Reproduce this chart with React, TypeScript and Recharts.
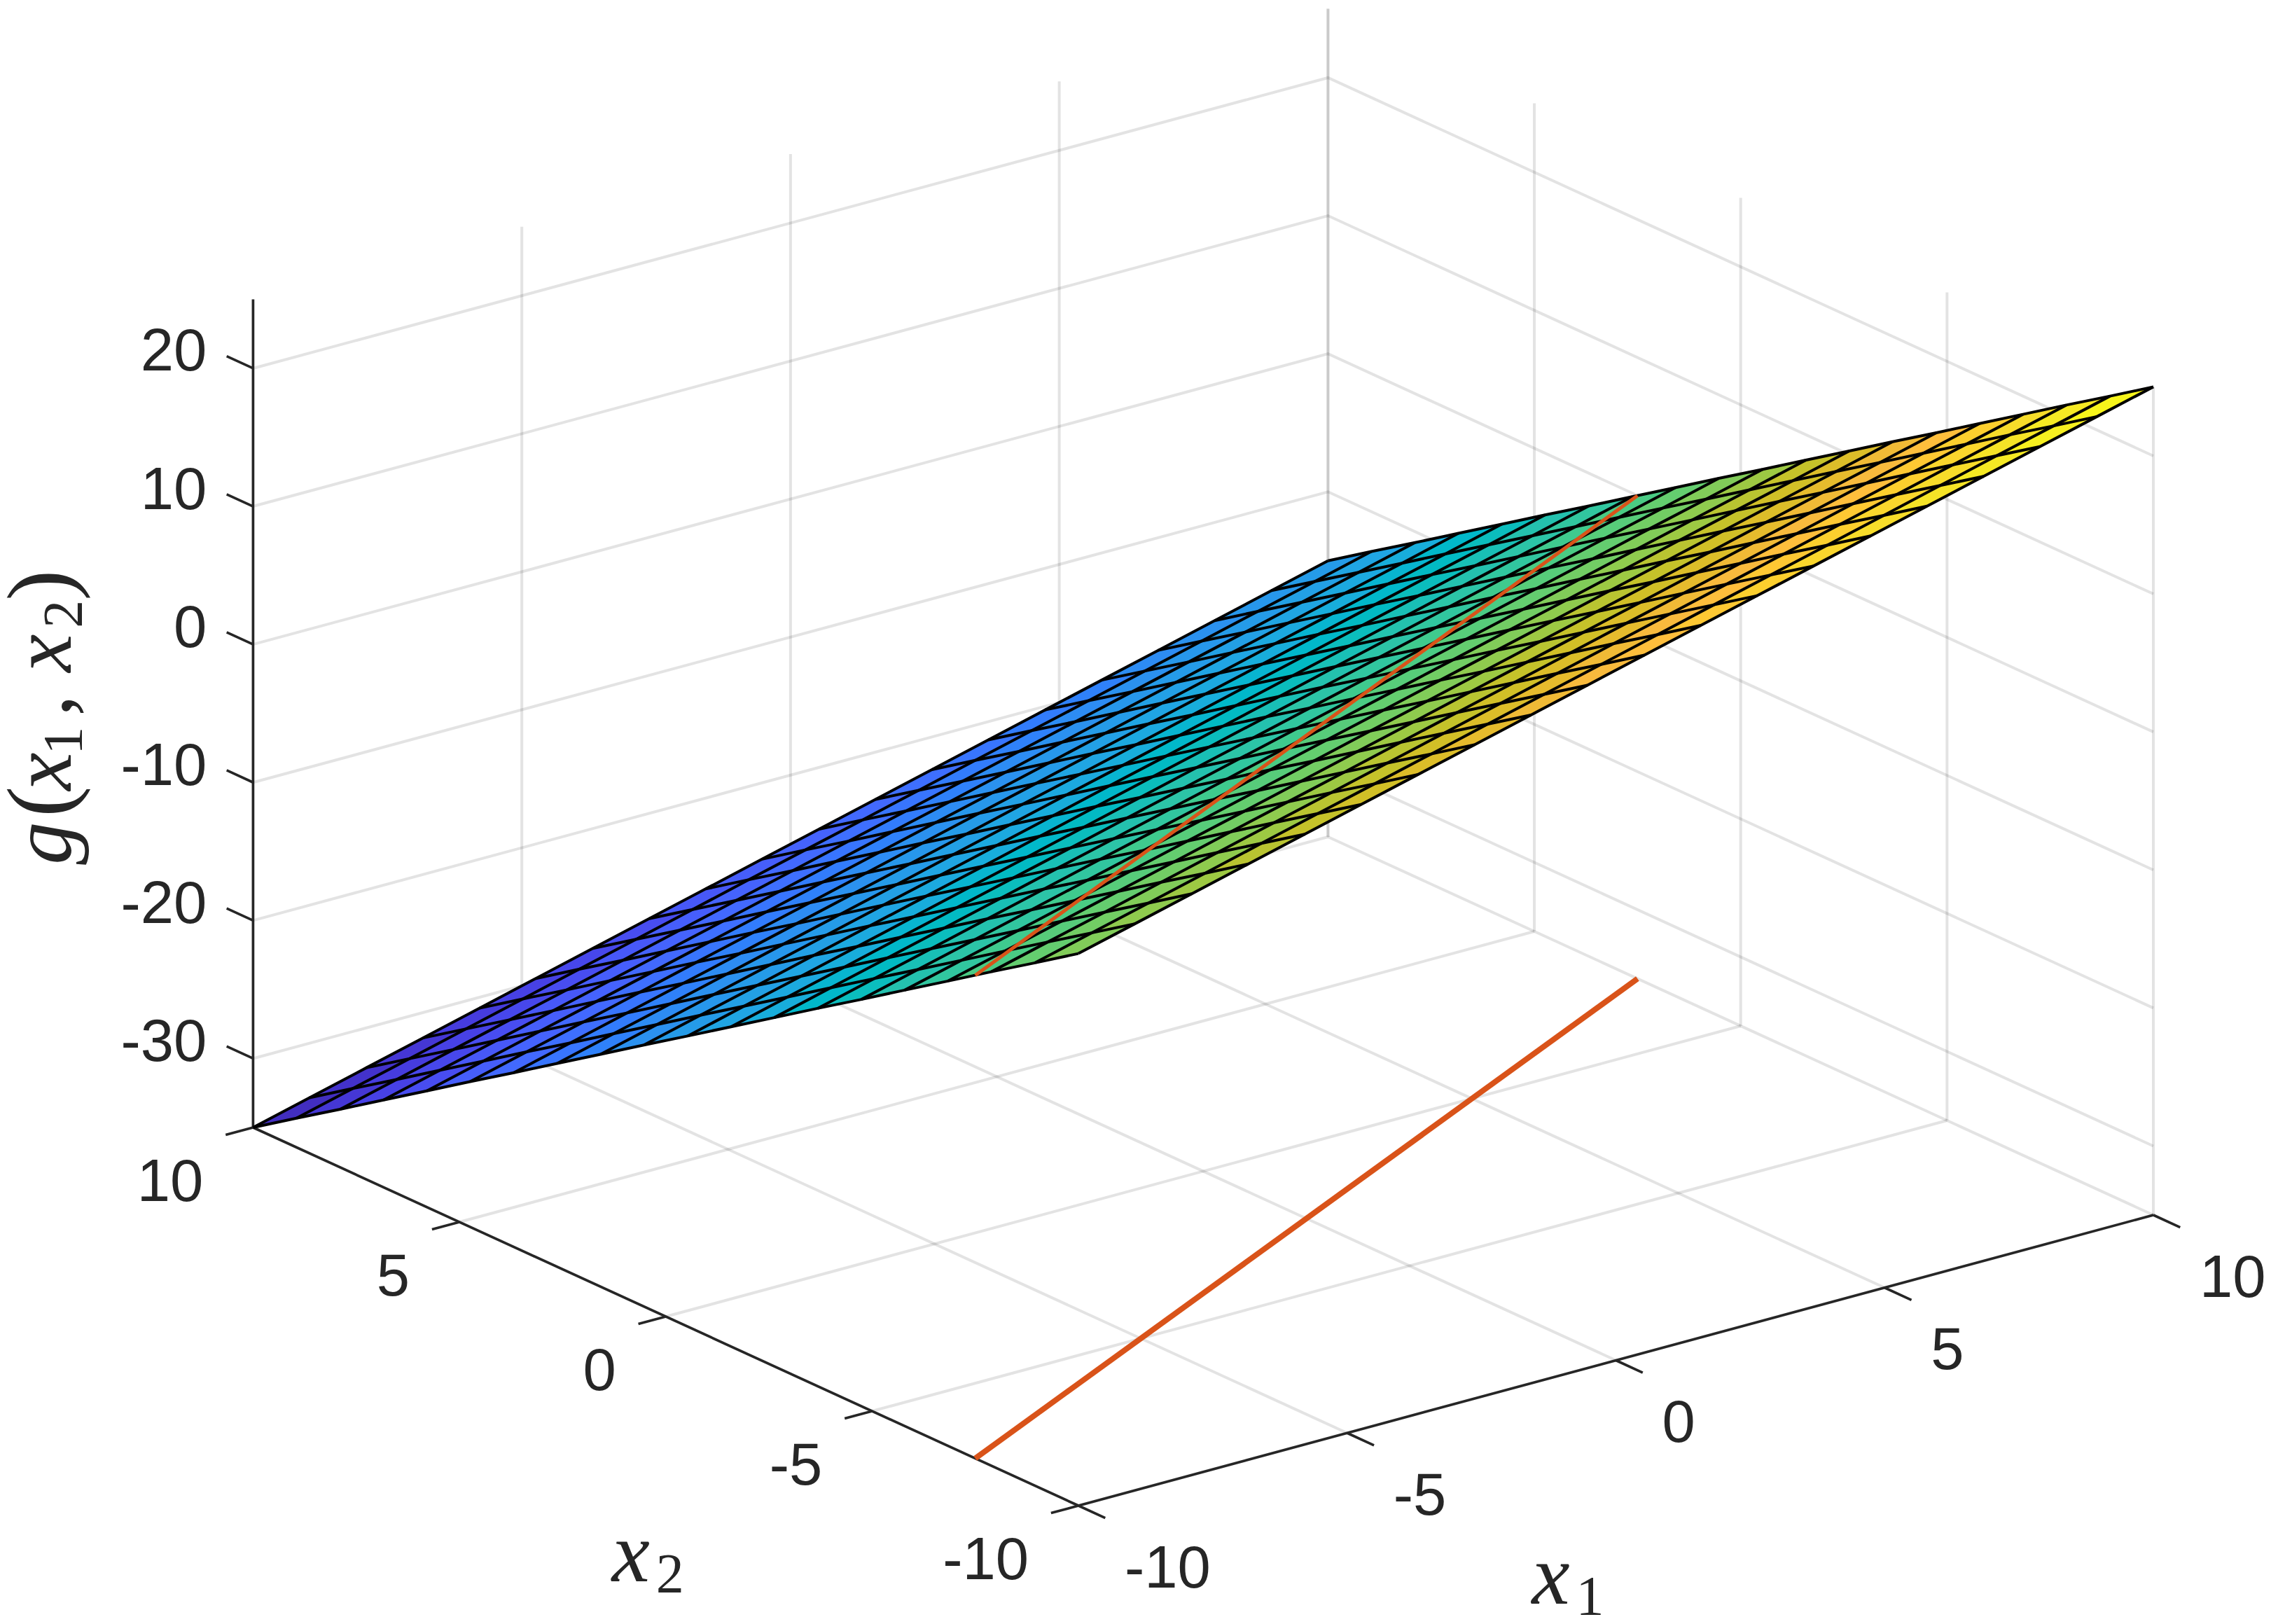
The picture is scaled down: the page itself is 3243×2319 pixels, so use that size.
import React from 'react';
import { ScatterChart, Scatter, XAxis, YAxis } from 'recharts';

const WIDTH = 3243;
const HEIGHT = 2319;

const X1_GRID = [-10, -8.95, -7.89, -6.84, -5.79, -4.74, -3.68, -2.63, -1.58, -0.53, 0.53, 1.58, 2.63, 3.68, 4.74, 5.79, 6.84, 7.89, 8.95, 10];
const X2_GRID = [-10, -8.95, -7.89, -6.84, -5.79, -4.74, -3.68, -2.63, -1.58, -0.53, 0.53, 1.58, 2.63, 3.68, 4.74, 5.79, 6.84, 7.89, 8.95, 10];

// g(x1, x2): one row per x2 value, one column per x1 value
const G_VALUES = [
  [5.00, 6.05, 7.11, 8.16, 9.21, 10.26, 11.32, 12.37, 13.42, 14.47, 15.53, 16.58, 17.63, 18.68, 19.74, 20.79, 21.84, 22.89, 23.95, 25.00],
  [2.89, 3.95, 5.00, 6.05, 7.11, 8.16, 9.21, 10.26, 11.32, 12.37, 13.42, 14.47, 15.53, 16.58, 17.63, 18.68, 19.74, 20.79, 21.84, 22.89],
  [0.79, 1.84, 2.89, 3.95, 5.00, 6.05, 7.11, 8.16, 9.21, 10.26, 11.32, 12.37, 13.42, 14.47, 15.53, 16.58, 17.63, 18.68, 19.74, 20.79],
  [-1.32, -0.26, 0.79, 1.84, 2.89, 3.95, 5.00, 6.05, 7.11, 8.16, 9.21, 10.26, 11.32, 12.37, 13.42, 14.47, 15.53, 16.58, 17.63, 18.68],
  [-3.42, -2.37, -1.32, -0.26, 0.79, 1.84, 2.89, 3.95, 5.00, 6.05, 7.11, 8.16, 9.21, 10.26, 11.32, 12.37, 13.42, 14.47, 15.53, 16.58],
  [-5.53, -4.47, -3.42, -2.37, -1.32, -0.26, 0.79, 1.84, 2.89, 3.95, 5.00, 6.05, 7.11, 8.16, 9.21, 10.26, 11.32, 12.37, 13.42, 14.47],
  [-7.63, -6.58, -5.53, -4.47, -3.42, -2.37, -1.32, -0.26, 0.79, 1.84, 2.89, 3.95, 5.00, 6.05, 7.11, 8.16, 9.21, 10.26, 11.32, 12.37],
  [-9.74, -8.68, -7.63, -6.58, -5.53, -4.47, -3.42, -2.37, -1.32, -0.26, 0.79, 1.84, 2.89, 3.95, 5.00, 6.05, 7.11, 8.16, 9.21, 10.26],
  [-11.84, -10.79, -9.74, -8.68, -7.63, -6.58, -5.53, -4.47, -3.42, -2.37, -1.32, -0.26, 0.79, 1.84, 2.89, 3.95, 5.00, 6.05, 7.11, 8.16],
  [-13.95, -12.89, -11.84, -10.79, -9.74, -8.68, -7.63, -6.58, -5.53, -4.47, -3.42, -2.37, -1.32, -0.26, 0.79, 1.84, 2.89, 3.95, 5.00, 6.05],
  [-16.05, -15.00, -13.95, -12.89, -11.84, -10.79, -9.74, -8.68, -7.63, -6.58, -5.53, -4.47, -3.42, -2.37, -1.32, -0.26, 0.79, 1.84, 2.89, 3.95],
  [-18.16, -17.11, -16.05, -15.00, -13.95, -12.89, -11.84, -10.79, -9.74, -8.68, -7.63, -6.58, -5.53, -4.47, -3.42, -2.37, -1.32, -0.26, 0.79, 1.84],
  [-20.26, -19.21, -18.16, -17.11, -16.05, -15.00, -13.95, -12.89, -11.84, -10.79, -9.74, -8.68, -7.63, -6.58, -5.53, -4.47, -3.42, -2.37, -1.32, -0.26],
  [-22.37, -21.32, -20.26, -19.21, -18.16, -17.11, -16.05, -15.00, -13.95, -12.89, -11.84, -10.79, -9.74, -8.68, -7.63, -6.58, -5.53, -4.47, -3.42, -2.37],
  [-24.47, -23.42, -22.37, -21.32, -20.26, -19.21, -18.16, -17.11, -16.05, -15.00, -13.95, -12.89, -11.84, -10.79, -9.74, -8.68, -7.63, -6.58, -5.53, -4.47],
  [-26.58, -25.53, -24.47, -23.42, -22.37, -21.32, -20.26, -19.21, -18.16, -17.11, -16.05, -15.00, -13.95, -12.89, -11.84, -10.79, -9.74, -8.68, -7.63, -6.58],
  [-28.68, -27.63, -26.58, -25.53, -24.47, -23.42, -22.37, -21.32, -20.26, -19.21, -18.16, -17.11, -16.05, -15.00, -13.95, -12.89, -11.84, -10.79, -9.74, -8.68],
  [-30.79, -29.74, -28.68, -27.63, -26.58, -25.53, -24.47, -23.42, -22.37, -21.32, -20.26, -19.21, -18.16, -17.11, -16.05, -15.00, -13.95, -12.89, -11.84, -10.79],
  [-32.89, -31.84, -30.79, -29.74, -28.68, -27.63, -26.58, -25.53, -24.47, -23.42, -22.37, -21.32, -20.26, -19.21, -18.16, -17.11, -16.05, -15.00, -13.95, -12.89],
  [-35.00, -33.95, -32.89, -31.84, -30.79, -29.74, -28.68, -27.63, -26.58, -25.53, -24.47, -23.42, -22.37, -21.32, -20.26, -19.21, -18.16, -17.11, -16.05, -15.00],
];

const RED_X1 = [-10, 10];
const RED_X2 = [-7.5, 2.5];
const RED_SURFACE_Z = [0, 0];

const X_TICKS = [-10, -5, 0, 5, 10];
const Z_TICKS = [-30, -20, -10, 0, 10, 20];
const X_MIN = -10;
const X_MAX = 10;
const Z_MIN = -35;
const Z_MAX = 25;

const PARULA = [
  [0.2422, 0.1504, 0.6603], [0.2504, 0.165, 0.7076], [0.2578, 0.1818, 0.7511], [0.2647, 0.1978, 0.7952],
  [0.2706, 0.2147, 0.8364], [0.2751, 0.2342, 0.871], [0.2783, 0.2559, 0.8991], [0.2803, 0.2782, 0.9221],
  [0.2813, 0.3006, 0.9414], [0.281, 0.3228, 0.9579], [0.2795, 0.3447, 0.9717], [0.276, 0.3667, 0.9829],
  [0.2699, 0.3892, 0.9906], [0.2602, 0.4123, 0.9952], [0.244, 0.4358, 0.9988], [0.2206, 0.4603, 0.9973],
  [0.1963, 0.4847, 0.9892], [0.1834, 0.5074, 0.9798], [0.1786, 0.5289, 0.9682], [0.1764, 0.5499, 0.952],
  [0.1687, 0.5703, 0.9359], [0.154, 0.5902, 0.9218], [0.146, 0.6091, 0.9079], [0.138, 0.6276, 0.8973],
  [0.1248, 0.6459, 0.8883], [0.1113, 0.6635, 0.8763], [0.0952, 0.6798, 0.8598], [0.0689, 0.6948, 0.8394],
  [0.0297, 0.7082, 0.8163], [0.0036, 0.7203, 0.7917], [0.0067, 0.7312, 0.766], [0.0433, 0.7411, 0.7394],
  [0.0964, 0.75, 0.712], [0.1408, 0.7584, 0.6842], [0.1717, 0.767, 0.6554], [0.1938, 0.7758, 0.6251],
  [0.2161, 0.7843, 0.5923], [0.247, 0.7918, 0.5567], [0.2906, 0.7973, 0.5188], [0.3406, 0.8008, 0.4789],
  [0.3909, 0.8029, 0.4354], [0.4456, 0.8024, 0.3909], [0.5044, 0.7993, 0.348], [0.5616, 0.7942, 0.3045],
  [0.6174, 0.7876, 0.2612], [0.672, 0.7793, 0.2227], [0.7242, 0.7698, 0.191], [0.7738, 0.7598, 0.1646],
  [0.8203, 0.7498, 0.1535], [0.8634, 0.7406, 0.1596], [0.9035, 0.733, 0.1774], [0.9393, 0.7288, 0.21],
  [0.9728, 0.7298, 0.2394], [0.9956, 0.7434, 0.2371], [0.997, 0.7659, 0.2199], [0.9952, 0.7861, 0.1991],
  [0.9892, 0.8135, 0.1798], [0.9786, 0.8386, 0.1766], [0.9676, 0.8639, 0.1643], [0.961, 0.889, 0.1537],
  [0.9597, 0.9135, 0.1423], [0.9628, 0.9373, 0.1265], [0.9691, 0.9606, 0.1064], [0.9769, 0.9839, 0.0805],
];

const TEXT_COLOR = '#262626';
const AXIS_COLOR = '#262626';
const RED = '#D95319';
const SANS = '"Liberation Sans", Arial, sans-serif';
const SERIF = '"Liberation Serif", "Times New Roman", serif';
const GRID_W = 4;
const GRID_OP = 0.13;
const AXIS_W = 3.6;
const MESH_W = 4;

// Orthographic view of the 3D box, expressed on the chart's x/y axes.
const project = (x1: number, x2: number, z: number) => ({
  px: 1540 + (x1 + 10) * 76.75 - (x2 + 10) * 58.93,
  py: 2150 - (x1 + 10) * 20.75 - (x2 + 10) * 27 - (z + 35) * 19.71,
});

const parulaColor = (z: number) => {
  const idx = Math.min(PARULA.length - 1, Math.floor(((z - Z_MIN) / (Z_MAX - Z_MIN)) * PARULA.length));
  const [r, g, b] = PARULA[idx];
  return `rgb(${Math.round(r * 255)},${Math.round(g * 255)},${Math.round(b * 255)})`;
};

const NoMark = () => <g />;

type Pt = { px: number; py: number };

const segment = (key: string, pts: Pt[], stroke: string, strokeWidth: number, strokeOpacity = 1) => (
  <Scatter
    key={key}
    data={pts}
    isAnimationActive={false}
    shape={NoMark}
    lineJointType="linear"
    line={{ stroke, strokeWidth, strokeOpacity, fill: 'none', strokeLinecap: 'butt', strokeLinejoin: 'miter' }}
  />
);

const gridSeries: React.ReactNode[] = [];
X_TICKS.forEach((t) => {
  gridSeries.push(segment(`fx1${t}`, [project(t, X_MIN, Z_MIN), project(t, X_MAX, Z_MIN)], AXIS_COLOR, GRID_W, GRID_OP));
  gridSeries.push(segment(`fx2${t}`, [project(X_MIN, t, Z_MIN), project(X_MAX, t, Z_MIN)], AXIS_COLOR, GRID_W, GRID_OP));
  gridSeries.push(segment(`wx1${t}`, [project(t, X_MAX, Z_MIN), project(t, X_MAX, Z_MAX)], AXIS_COLOR, GRID_W, GRID_OP));
  gridSeries.push(segment(`wx2${t}`, [project(X_MAX, t, Z_MIN), project(X_MAX, t, Z_MAX)], AXIS_COLOR, GRID_W, GRID_OP));
});
Z_TICKS.forEach((t) => {
  gridSeries.push(
    segment(`wz${t}`, [project(X_MIN, X_MAX, t), project(X_MAX, X_MAX, t), project(X_MAX, X_MIN, t)], AXIS_COLOR, GRID_W, GRID_OP),
  );
});

const axisSeries: React.ReactNode[] = [
  segment('ax1', [project(X_MIN, X_MIN, Z_MIN), project(X_MAX, X_MIN, Z_MIN)], AXIS_COLOR, AXIS_W),
  segment('ax2', [project(X_MIN, X_MIN, Z_MIN), project(X_MIN, X_MAX, Z_MIN)], AXIS_COLOR, AXIS_W),
  segment('az', [project(X_MIN, X_MAX, Z_MIN), project(X_MIN, X_MAX, Z_MAX)], AXIS_COLOR, AXIS_W),
];
X_TICKS.forEach((t) => {
  axisSeries.push(segment(`t1${t}`, [project(t, X_MIN, Z_MIN), project(t, X_MIN - 0.65, Z_MIN)], AXIS_COLOR, AXIS_W));
  axisSeries.push(segment(`t2${t}`, [project(X_MIN, t, Z_MIN), project(X_MIN - 0.51, t, Z_MIN)], AXIS_COLOR, AXIS_W));
});
Z_TICKS.forEach((t) => {
  axisSeries.push(segment(`tz${t}`, [project(X_MIN, X_MAX, t), project(X_MIN, X_MAX + 0.64, t)], AXIS_COLOR, AXIS_W));
});

const faceSeries: React.ReactNode[] = [];
for (let j = 0; j < X2_GRID.length - 1; j++) {
  for (let i = 0; i < X1_GRID.length - 1; i++) {
    const pts = [
      project(X1_GRID[i], X2_GRID[j], G_VALUES[j][i]),
      project(X1_GRID[i + 1], X2_GRID[j], G_VALUES[j][i + 1]),
      project(X1_GRID[i + 1], X2_GRID[j + 1], G_VALUES[j + 1][i + 1]),
      project(X1_GRID[i], X2_GRID[j + 1], G_VALUES[j + 1][i]),
      project(X1_GRID[i], X2_GRID[j], G_VALUES[j][i]),
    ];
    const color = parulaColor(G_VALUES[j][i]);
    faceSeries.push(
      <Scatter
        key={`f${i}-${j}`}
        data={pts}
        isAnimationActive={false}
        shape={NoMark}
        lineJointType="linear"
        line={{ fill: color, stroke: color, strokeWidth: 0.5 }}
      />,
    );
  }
}

const meshSeries: React.ReactNode[] = [];
X2_GRID.forEach((x2, j) => {
  meshSeries.push(segment(`mr${j}`, X1_GRID.map((x1, i) => project(x1, x2, G_VALUES[j][i])), '#000', MESH_W));
});
X1_GRID.forEach((x1, i) => {
  meshSeries.push(segment(`mc${i}`, X2_GRID.map((x2, j) => project(x1, x2, G_VALUES[j][i])), '#000', MESH_W));
});

const tickLabel = (anchor: string, dx: number, dy: number) => (p: any) => (
  <text
    x={p.cx + dx}
    y={p.cy + dy}
    textAnchor={anchor}
    dominantBaseline="central"
    fontFamily={SANS}
    fontSize={85}
    fill={TEXT_COLOR}
  >
    {p.payload.label}
  </text>
);

const titleX = (sub: string) => (p: any) => (
  <g>
    <text x={p.cx} y={p.cy} fontFamily={SERIF} fontStyle="italic" fontSize={122} fill={TEXT_COLOR}>
      x
    </text>
    <text x={p.cx + 63} y={p.cy + 16} fontFamily={SERIF} fontSize={80} fill={TEXT_COLOR}>
      {sub}
    </text>
  </g>
);

const ZPart = ({ at, up = 0, size = 122, italic = false, children }: any) => (
  <text
    x={at}
    y={up}
    fontFamily={SERIF}
    fontStyle={italic ? 'italic' : 'normal'}
    fontSize={size}
    fill={TEXT_COLOR}
  >
    {children}
  </text>
);

const titleZ = (p: any) => (
  <g transform={`translate(${p.cx} ${p.cy}) rotate(-90)`}>
    <ZPart at={0} italic>g</ZPart>
    <ZPart at={68} size={132}>(</ZPart>
    <ZPart at={106} italic>x</ZPart>
    <ZPart at={157} up={16} size={80}>1</ZPart>
    <ZPart at={212}>,</ZPart>
    <ZPart at={275} italic>x</ZPart>
    <ZPart at={338} up={16} size={80}>2</ZPart>
    <ZPart at={377} size={132}>)</ZPart>
  </g>
);

export default function App() {
  return (
    <div style={{ position: 'absolute', left: 0, top: 0, width: WIDTH, height: HEIGHT, background: '#fff' }}>
      <ScatterChart width={WIDTH} height={HEIGHT} margin={{ top: 0, right: 0, bottom: 0, left: 0 }}>
        <XAxis type="number" dataKey="px" domain={[0, WIDTH]} hide />
        <YAxis type="number" dataKey="py" domain={[0, HEIGHT]} reversed hide />
        {gridSeries}
        {axisSeries}
        {faceSeries}
        {meshSeries}
        {segment('redFloor', RED_X1.map((x1, i) => project(x1, RED_X2[i], Z_MIN)), RED, 8)}
        {segment('redSurface', RED_X1.map((x1, i) => project(x1, RED_X2[i], RED_SURFACE_Z[i])), RED, 5)}
        <Scatter
          data={Z_TICKS.map((t) => ({ ...project(X_MIN, X_MAX, t), label: String(t) }))}
          isAnimationActive={false}
          shape={tickLabel('end', -66, -26)}
        />
        <Scatter
          data={X_TICKS.map((t) => ({ ...project(X_MIN, t, Z_MIN), label: String(t) }))}
          isAnimationActive={false}
          shape={tickLabel('end', -71, 75)}
        />
        <Scatter
          data={X_TICKS.map((t) => ({ ...project(t, X_MIN, Z_MIN), label: String(t) }))}
          isAnimationActive={false}
          shape={tickLabel('start', 66, 87)}
        />
        <Scatter
          data={[{ px: project(X_MIN, 0, Z_MIN).px - 77, py: project(X_MIN, 0, Z_MIN).py + 378 }]}
          isAnimationActive={false}
          shape={titleX('2')}
        />
        <Scatter
          data={[{ px: project(0, X_MIN, Z_MIN).px - 120, py: project(0, X_MIN, Z_MIN).py + 347 }]}
          isAnimationActive={false}
          shape={titleX('1')}
        />
        <Scatter
          data={[{ px: project(X_MIN, X_MAX, -5).px - 260, py: project(X_MIN, X_MAX, -5).py + 216 }]}
          isAnimationActive={false}
          shape={titleZ}
        />
      </ScatterChart>
    </div>
  );
}
